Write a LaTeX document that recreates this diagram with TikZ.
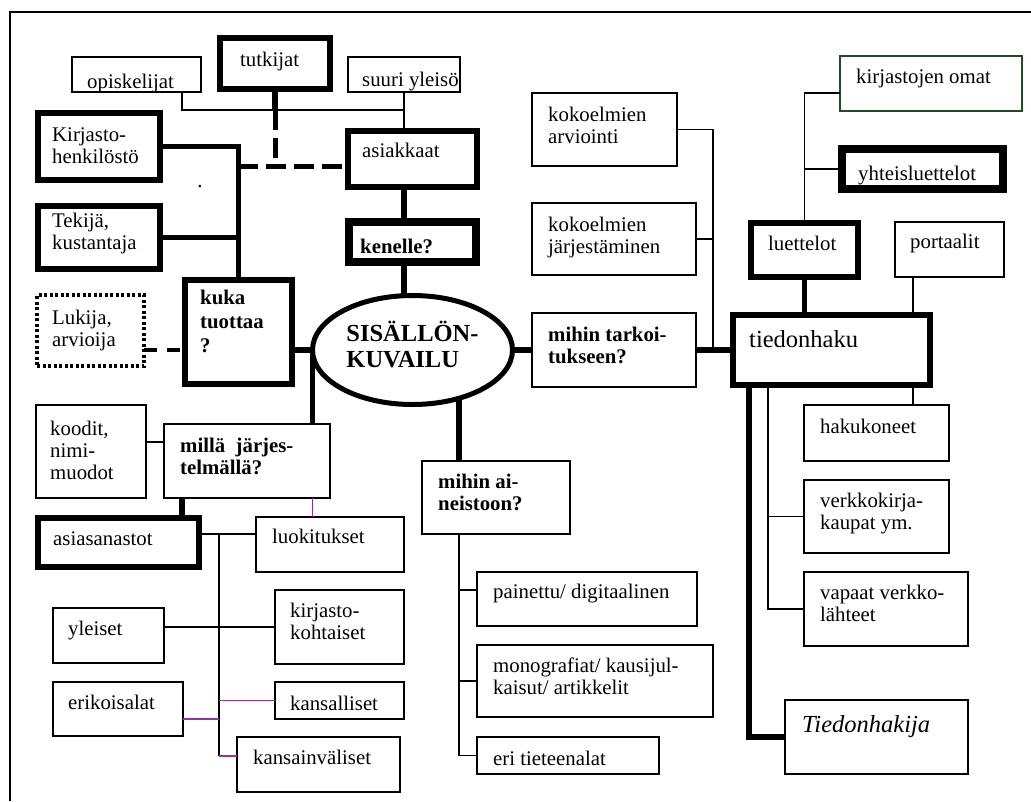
\documentclass[tikz,border=0pt]{standalone}
\usepackage{fontspec}
\setmainfont{Liberation Serif}
\usetikzlibrary{shapes.geometric}
\definecolor{omat}{RGB}{35,75,35}
\definecolor{lila}{RGB}{150,50,160}
\tikzset{
  box/.style 2 args={draw, line width=1.2pt, anchor=north west, inner sep=0pt,
    outer sep=0pt, minimum width=#1, minimum height=#2},
  strong/.style={line width=5.5pt},
  heavy/.style={line width=8pt},
  dotbox/.style={line width=3.5pt, dash pattern=on 3pt off 2.5pt},
  txt/.style 2 args={anchor=north west, inner sep=0pt, align=left,
    xshift=#1, yshift=-#2, execute at begin node=\strut},
  qfont/.style={font=\fontsize{20.8}{22}\selectfont\bfseries},
  bigfont/.style={font=\fontsize{24.5}{26}\selectfont},
  link/.style={line width=1.2pt},
  wide/.style={line width=5.5pt},
  longdash/.style={line width=5pt, dash pattern=on 20pt off 8pt},
  shortdash/.style={line width=4.5pt, dash pattern=on 13pt off 10pt}
}

\begin{document}
\begin{tikzpicture}[x=1pt, y=-1pt, font=\fontsize{20.8}{22}\selectfont]
  \useasboundingbox (0,0) rectangle (1031,801);
  \draw[line width=2pt] (10,801) -- (10,12) -- (1031,12);

  \node[ellipse, draw, line width=5pt, minimum width=200pt, minimum height=109pt,
    inner sep=0pt, outer sep=0pt, align=left,
    font=\fontsize{24.5}{26}\selectfont\bfseries] (sis) at (412.5,350)
    {SISÄLLÖN-\\KUVAILU\rule[-12pt]{0pt}{0pt}};

  \node[box={129}{35}, label={[txt={15}{15.6}]north west:opiskelijat}] (opisk) at (72,57) {};
  \node[box={110}{51}, strong, label={[txt={20}{12.6}]north west:tutkijat}] (tutk) at (220,38) {};
  \node[box={112}{35}, label={[txt={14}{13.6}]north west:suuri yleisö}] (yleiso) at (348,57) {};
  \node[box={122}{67}, strong, label={[txt={14}{14.6}]north west:Kirjasto-\\henkilöstö}] (kirj) at (38,113) {};
  \node[box={129}{56}, strong, label={[txt={14}{10.6}]north west:asiakkaat}] (asiak) at (348,131) {};
  \node[box={122}{63}, strong, label={[txt={14}{6.6}]north west:Tekijä,\\kustantaja}] (tekija) at (38,206) {};
  \node[box={127}{40}, heavy, label={[txt={11}{16}, qfont]north west:kenelle?}] (kenelle) at (349,222) {};
  \node[anchor=base] (piste) at (200,187) {.};
  \node[box={107}{71}, dotbox, label={[txt={15}{14.6}]north west:Lukija,\\arvioija}] (lukija) at (37,295) {};
  \node[box={107}{104}, strong, label={[txt={15}{10.2}, font=\fontsize{20.8}{24}\selectfont\bfseries]north west:kuka\\tuottaa\\?}] (kuka) at (185,280) {};

  \node[box={110}{93}, label={[txt={14}{15.6}]north west:koodit,\\nimi-\\muodot}] (koodit) at (36,405) {};
  \node[box={166}{74}, label={[txt={16}{13.6}, qfont]north west:millä\ \ järjes-\\telmällä?}] (milla) at (164,424) {};
  \node[box={148}{73}, label={[txt={16}{12.6}, qfont]north west:mihin ai-\\neistoon?}] (aine) at (422,461) {};
  \node[box={161}{49}, strong, label={[txt={15}{11.6}]north west:asiasanastot}] (asia) at (38,518) {};
  \node[box={148}{55}, label={[txt={16}{10.6}]north west:luokitukset}] (luok) at (256,517) {};
  \node[box={111}{55}, label={[txt={15}{11.6}]north west:yleiset}] (yleiset) at (53,608) {};
  \node[box={129}{74}, label={[txt={15}{12.6}]north west:kirjasto-\\kohtaiset}] (kk) at (275,590) {};
  \node[box={130}{54}, label={[txt={15}{11.6}]north west:erikoisalat}] (erik) at (53,682) {};
  \node[box={129}{37}, label={[txt={15}{12.6}]north west:kansalliset}] (kans) at (275,682) {};
  \node[box={163}{55}, label={[txt={16}{11.6}]north west:kansainväliset}] (kv) at (237,737) {};
  \node[box={220}{54}, label={[txt={16}{10.6}]north west:painettu/ digitaalinen}] (pain) at (477,572) {};
  \node[box={236}{72}, label={[txt={16}{12.6}]north west:monografiat/ kausijul-\\kaisut/ artikkelit}] (mono) at (477,645) {};
  \node[box={182}{37}, label={[txt={16}{12.6}]north west:eri tieteenalat}] (eri) at (477,737) {};

  \node[box={182}{55}, draw=omat, label={[txt={16}{11.6}]north west:kirjastojen omat}] (omat) at (840,56) {};
  \node[box={161}{40}, heavy, label={[txt={16}{15.6}]north west:yhteisluettelot}] (yht) at (842,149) {};
  \node[box={145}{73}, label={[txt={16}{13.6}]north west:kokoelmien\\arviointi}] (arv) at (532,93) {};
  \node[box={164}{72}, label={[txt={16}{13.6}]north west:kokoelmien\\järjestäminen}] (jarj) at (532,203) {};
  \node[box={107}{54}, strong, label={[txt={17}{11.6}]north west:luettelot}] (lue) at (751,223) {};
  \node[box={109}{55}, label={[txt={15}{10.6}]north west:portaalit}] (port) at (895,222) {};
  \node[box={164}{74}, label={[txt={16}{13.6}, qfont]north west:mihin tarkoi-\\tukseen?}] (tark) at (532,313) {};
  \node[box={197}{70}, strong, label={[txt={16}{13.8}, bigfont]north west:tiedonhaku}] (tieto) at (733,315) {};
  \node[box={145}{56}, label={[txt={16}{12.6}]north west:hakukoneet}] (hak) at (804,405) {};
  \node[box={145}{73}, label={[txt={16}{12.6}]north west:verkkokirja-\\kaupat ym.}] (verkko) at (804,480) {};
  \node[box={164}{74}, label={[txt={16}{12.6}]north west:vapaat verkko-\\lähteet}] (vapaat) at (804,572) {};
  \node[box={183}{74}, label={[txt={17}{13.8}, bigfont]north west:\textit{Tiedonhakija}}] (hakija) at (785,700) {};

  \coordinate (bus) at (275,110);
  \coordinate (dq) at (238,166);
  \coordinate (k1) at (164,442);
  \coordinate (m1) at (182,498);
  \coordinate (s1) at (219,534);
  \coordinate (s2) at (219,756);
  \coordinate (s3) at (219,719);
  \coordinate (a1) at (459,590);
  \coordinate (r1) at (713,350);
  \coordinate (r2) at (804,93);
  \coordinate (r3) at (913,277);
  \coordinate (r4) at (749,385);
  \coordinate (r5) at (768,385);

  \draw[link] ([xshift=110pt]opisk.south west) |- (bus -| yleiso.south);
  \draw[link] (yleiso.south) -- (yleiso.south |- asiak.north);
  \draw[wide] (tutk.south) -- (bus);
  \draw[longdash] (bus) -- (bus |- dq);
  \draw[longdash] (dq) -- (dq -| asiak.west);
  \draw[wide] (kirj.east) -| (kuka.north);
  \draw[wide] (tekija.east) -- (tekija.east -| kuka.north);
  \draw[wide] (asiak.south -| yleiso.south) -- (kenelle.north -| yleiso.south);
  \draw[wide] (kenelle.south -| yleiso.south) -- (yleiso.south |- sis.north);
  \draw[shortdash] (sis.west -| lukija.east) -- (sis.west -| kuka.west);
  \draw[wide] (sis.west -| kuka.east) -- (sis.west);
  \draw[wide] (sis.west) -- (sis.west |- milla.north);
  \draw[wide] (sis.-46) -- (sis.-46 |- aine.north);
  \draw[wide] (sis.east) -- (tark.west);
  \draw[wide] (tark.east) -- (tieto.west);

  \draw[link] (k1) -- (k1 -| koodit.east);
  \draw[wide] (m1) -- (m1 |- asia.north);
  \draw[link, lila] (sis.west |- milla.south) -- (sis.west |- luok.north);
  \draw[link] (s1 -| asia.east) -- (s1 -| luok.west);
  \draw[link] (s1) -- (s2);
  \draw[link] (kk.west) -- (kk.west -| yleiset.east);
  \draw[link, lila] (kans.west) -- (kans.west -| s1);
  \draw[link, lila] (s3) -- (s3 -| erik.east);
  \draw[link, lila] (s2) -- (s2 -| kv.west);

  \draw[link] (sis.-46 |- aine.south) |- (eri.west);
  \draw[link] (a1) -- (a1 -| pain.west);
  \draw[link] (sis.-46 |- mono.west) -- (mono.west);

  \draw[link] (arv.east) -| (r1);
  \draw[link] (jarj.east) -- (jarj.east -| r1);
  \draw[link] (r2 -| omat.west) -| (lue.north);
  \draw[link] (yht.west) -- (yht.west -| lue.north);
  \draw[wide] (lue.south) -- (lue.south |- tieto.north);
  \draw[link] (r3) -- (r3 |- tieto.north);
  \draw[link] (r3 |- tieto.south) -- (r3 |- hak.north);
  \draw[wide] (r4) |- (hakija.west);
  \draw[link] (r5) |- (vapaat.west);
  \draw[link] (verkko.west) -- (verkko.west -| r5);
\end{tikzpicture}
\end{document}
